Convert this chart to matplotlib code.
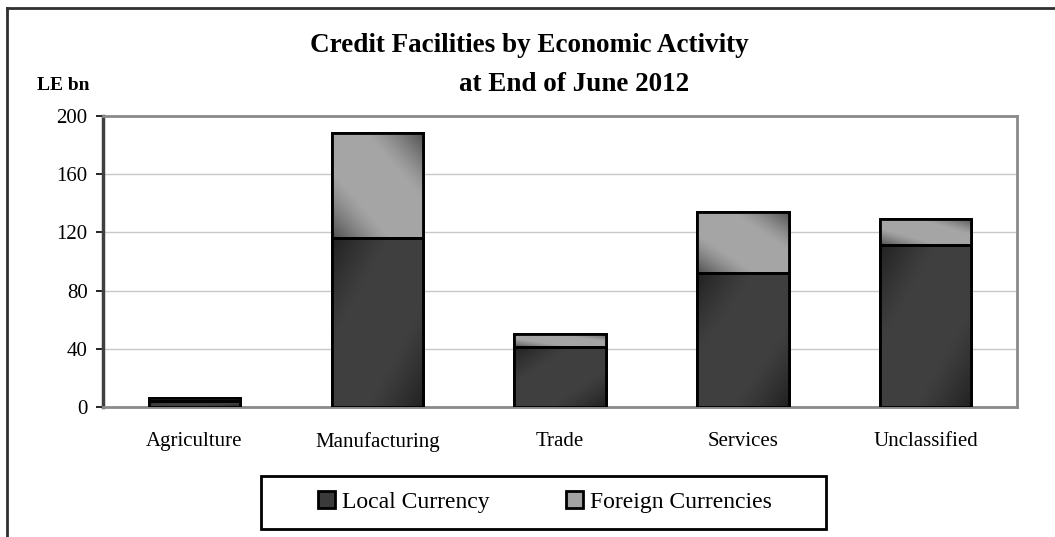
import numpy as np
import matplotlib
matplotlib.use('Agg')
import matplotlib.pyplot as plt
from matplotlib.lines import Line2D

# credit facilities, LE bn, end of June 2012
sectors = ['Agriculture', 'Manufacturing', 'Trade', 'Services', 'Unclassified']
local = [4, 116, 41, 92, 111]
foreign = [2, 72, 9, 42, 18]
yticks = [0, 40, 80, 120, 160, 200]

plt.rcParams['font.family'] = ['Liberation Serif', 'DejaVu Serif']

fig = plt.figure(figsize=(10.55, 5.37), dpi=100)
ax = fig.add_axes([103 / 1055, 1 - 407 / 537, 914 / 1055, 291 / 537])

x = np.arange(len(sectors))
w = 0.5
b1 = ax.bar(x, local, w, color='#3a3a3a', edgecolor='black', linewidth=2,
            label='Local Currency', zorder=3)
b2 = ax.bar(x, foreign, w, bottom=local, color='#a2a2a2', edgecolor='black',
            linewidth=2, label='Foreign Currencies', zorder=3)


def shade(patch, base, amp, flip):
    # diagonal shading, darker toward two opposite corners
    x0, y0 = patch.get_x(), patch.get_y()
    bw, bh = patch.get_width(), patch.get_height()
    u, v = np.meshgrid(np.linspace(0, 1, 60), np.linspace(0, 1, 60))
    d = np.abs(u + v - 1) if flip else np.abs(u - v)
    g = base - amp * np.clip((d - 0.35) / 0.65, 0, 1) ** 1.3
    img = np.dstack([g, g, g])
    im = ax.imshow(img, extent=(x0, x0 + bw, y0, y0 + bh), origin='lower',
                   aspect='auto', interpolation='bilinear', zorder=3.5)
    im.set_clip_path(patch)


for p in b1:
    shade(p, 0.25, 0.12, False)
for p in b2:
    shade(p, 0.65, 0.33, True)

# redraw outlines above the shading
for p in list(b1) + list(b2):
    r = plt.Rectangle((p.get_x(), p.get_y()), p.get_width(), p.get_height(),
                      fill=False, edgecolor='black', linewidth=2, zorder=4)
    ax.add_patch(r)

ax.set_xlim(-0.5, len(sectors) - 0.5)
ax.set_ylim(0, 200)
ax.set_yticks(yticks)
ax.set_xticks(x)
ax.set_xticklabels(sectors, fontsize=15)
ax.tick_params(axis='y', labelsize=15, length=5, width=1.2, color='black', pad=6)
ax.tick_params(axis='x', length=0, pad=18)
ax.yaxis.grid(True, color='#c8c8c8', linewidth=1, zorder=0)
ax.set_axisbelow(True)
for s in ['top', 'right', 'bottom']:
    ax.spines[s].set_color('#8a8a8a')
    ax.spines[s].set_linewidth(2)
ax.spines['left'].set_color('#404040')
ax.spines['left'].set_linewidth(2.5)

fig.text(529 / 1055, 1 - 45 / 537, 'Credit Facilities by Economic Activity',
         ha='center', va='center', fontsize=19.5, fontweight='bold')
fig.text(574 / 1055, 1 - 84 / 537, 'at End of June 2012',
         ha='center', va='center', fontsize=19.5, fontweight='bold')
fig.text(37 / 1055, 1 - 86 / 537, 'LE bn', ha='left', va='center',
         fontsize=14, fontweight='bold')

# legend box drawn separately, entries centred inside it
fig.add_artist(plt.Rectangle((261 / 1055, 1 - 529 / 537), 565 / 1055, 53 / 537,
                             transform=fig.transFigure, fill=False,
                             edgecolor='black', linewidth=2))
fig.legend(handles=[b1, b2], loc='center',
           bbox_to_anchor=(545 / 1055, 1 - 502 / 537),
           bbox_transform=fig.transFigure, ncol=2, fontsize=17,
           handlelength=0.75, handleheight=0.75, handletextpad=0.3,
           columnspacing=3.2, frameon=False, borderpad=0, borderaxespad=0)

# outer border along top and left
fig.add_artist(Line2D([7 / 1055, 1], [1 - 8 / 537, 1 - 8 / 537],
                      transform=fig.transFigure, color='#303030', linewidth=2))
fig.add_artist(Line2D([7 / 1055, 7 / 1055], [0, 1 - 8 / 537],
                      transform=fig.transFigure, color='#303030', linewidth=2))

fig.savefig('out.png', dpi=100, facecolor='white')
